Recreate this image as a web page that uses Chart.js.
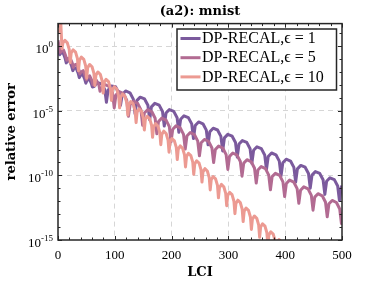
<!DOCTYPE html>
<html>
<head>
<meta charset="utf-8">
<script src="https://cdn.jsdelivr.net/npm/chart.js@4.4.1/dist/chart.umd.min.js"></script>
<style>
  html, body { margin: 0; padding: 0; background: #fff; }
  canvas { display: block; }
</style>
</head>
<body>
<canvas id="chart" width="378" height="283"></canvas>
<script>
"use strict";

// series: LCI positions and log10(relative error)
const seriesLabels = ["DP-RECAL,\u03f5 = 1", "DP-RECAL,\u03f5 = 5", "DP-RECAL,\u03f5 = 10"];

const lciEps1 = [
  0, 3, 5, 8.75, 12.5, 14.5, 16.5, 20.25, 24, 26, 28, 31.75, 35.5, 37.5, 39.5, 43.25, 47, 49, 51, 54.75, 58.5, 60.5,
  63.5, 69.2, 76.6, 82.3, 85.25, 88.2, 93.9, 101.3, 107, 110,
  113.1, 119, 126.7, 132.6,
  135.7, 138.8, 144.7, 152.4, 158.3,
  161.4, 164.5, 170.4, 178.1, 184,
  187.1, 190.2, 196.1, 203.8, 209.7,
  212.8, 215.9, 221.8, 229.5, 235.4,
  238.5, 241.6, 247.5, 255.2, 261.1,
  264.2, 267.3, 273.2, 280.9, 286.8,
  289.9, 293, 298.9, 306.6, 312.5,
  315.6, 318.7, 324.6, 332.3, 338.2,
  341.3, 344.4, 350.3, 358, 363.9,
  367, 370.1, 376, 383.7, 389.6,
  392.7, 395.8, 401.7, 409.4, 415.3,
  418.4, 421.5, 427.4, 435.1, 441,
  444.1, 447.2, 453.1, 460.8, 466.7,
  469.8, 472.9, 478.8, 486.5, 492.4,
  495.5, 498.6, 500
];
const logErrEps1 = [
  -0.05, -0.67, -0.53, -0.48, -0.94, -1.3, -1.16, -1.11, -1.55, -1.9, -1.75, -1.68, -2.1, -2.44, -2.28, -2.16, -2.55, -2.87, -2.68, -2.52, -2.86, -3.16,
  -3.13, -2.83, -2.91, -3.35, -4.35, -3.41, -3.08, -3.15, -3.63, -4.6,
  -3.74, -3.47, -3.61, -4.1,
  -5.23, -4.22, -3.95, -4.09, -4.58,
  -5.71, -4.7, -4.43, -4.57, -5.06,
  -6.19, -5.18, -4.91, -5.05, -5.54,
  -6.67, -5.66, -5.39, -5.53, -6.02,
  -7.15, -6.14, -5.87, -6.01, -6.5,
  -7.63, -6.62, -6.35, -6.49, -6.98,
  -8.11, -7.1, -6.83, -6.97, -7.46,
  -8.59, -7.58, -7.31, -7.45, -7.94,
  -9.07, -8.06, -7.79, -7.93, -8.42,
  -9.55, -8.54, -8.27, -8.41, -8.9,
  -10.03, -9.02, -8.75, -8.89, -9.38,
  -10.51, -9.5, -9.23, -9.37, -9.86,
  -10.99, -9.98, -9.71, -9.85, -10.34,
  -11.47, -10.46, -10.19, -10.33, -10.82,
  -11.95, -10.94, -10.8
];

const lciEps5 = [
  0, 4, 6, 9.75, 13.5, 15.5, 17.5, 21.25, 25, 27, 29, 32.75, 36.5, 38.5, 40.5, 44.25, 48, 50, 52, 55.75, 59.5, 61.5, 63.5, 67.75, 72, 74,
  77, 82.75, 90.25, 96, 99,
  102, 107.75, 115.25, 121, 124,
  127, 132.75, 140.25, 146, 149,
  152, 157.75, 165.25, 171, 174,
  177, 182.75, 190.25, 196, 199,
  202, 207.75, 215.25, 221, 224,
  227, 232.75, 240.25, 246, 249,
  252, 257.75, 265.25, 271, 274,
  277, 282.75, 290.25, 296, 299,
  302, 307.75, 315.25, 321, 324,
  327, 332.75, 340.25, 346, 349,
  352, 357.75, 365.25, 371, 374,
  377, 382.75, 390.25, 396, 399,
  402, 407.75, 415.25, 421, 424,
  427, 432.75, 440.25, 446, 449,
  452, 457.75, 465.25, 471, 474,
  477, 482.75, 490.25, 496, 499,
  500
];
const logErrEps5 = [
  0.45, -0.5, -0.4, -0.3, -0.75, -1.1, -0.95, -0.9, -1.3, -1.65, -1.45, -1.4, -1.8, -2.15, -2.0, -1.9, -2.3, -2.6, -2.4, -2.3, -2.65, -3.0, -2.75, -2.65, -3.0, -3.5,
  -3.23, -2.97, -3.13, -3.63, -4.78,
  -3.78, -3.52, -3.68, -4.18, -5.43,
  -4.53, -4.27, -4.43, -4.93, -6.13,
  -5.18, -4.92, -5.08, -5.58, -6.78,
  -5.83, -5.57, -5.73, -6.23, -7.4,
  -6.43, -6.17, -6.33, -6.83, -7.96,
  -6.95, -6.69, -6.85, -7.35, -8.49,
  -7.48, -7.22, -7.38, -7.88, -9.01,
  -8.0, -7.74, -7.9, -8.4, -9.54,
  -8.53, -8.27, -8.43, -8.93, -10.06,
  -9.05, -8.79, -8.95, -9.45, -10.59,
  -9.58, -9.32, -9.48, -9.98, -11.11,
  -10.1, -9.84, -10.0, -10.5, -11.64,
  -10.63, -10.37, -10.53, -11.03, -12.16,
  -11.15, -10.89, -11.05, -11.55, -12.69,
  -11.68, -11.42, -11.58, -12.08, -13.21,
  -12.2, -11.94, -12.1, -12.6, -13.73,
  -12.9
];

const lciEps10 = [
  0, 2.5, 5, 7, 8.75, 12.1, 16.4, 19.75, 21.5,
  23.25, 26.6, 30.9, 34.25, 36,
  37.75, 41.1, 45.4, 48.75, 50.5,
  52.25, 55.6, 59.9, 63.25, 65,
  66.75, 70.1, 74.4, 77.75, 79.5,
  81.25, 84.6, 88.9, 92.25, 94,
  95.75, 99.1, 103.4, 106.75, 108.5,
  110.25, 113.6, 117.9, 121.25, 123,
  124.75, 128.1, 132.4, 135.75, 137.5,
  139.25, 142.6, 146.9, 150.25, 152,
  153.75, 157.1, 161.4, 164.75, 166.5,
  168.25, 171.6, 175.9, 179.25, 181,
  182.75, 186.1, 190.4, 193.75, 195.5,
  197.25, 200.6, 204.9, 208.25, 210,
  211.75, 215.1, 219.4, 222.75, 224.5,
  226.25, 229.6, 233.9, 237.25, 239,
  240.75, 244.1, 248.4, 251.75, 253.5,
  255.25, 258.6, 262.9, 266.25, 268,
  269.75, 273.1, 277.4, 280.75, 282.5,
  284.25, 287.6, 291.9, 295.25, 297,
  298.75, 302.1, 306.4, 309.75, 311.5,
  313.25, 316.6, 320.9, 324.25, 326,
  327.75, 331.1, 335.4, 338.75, 340.5,
  342.25, 345.6, 349.9, 353.25, 355,
  356.75, 360.1, 364.4, 367.75, 369.5,
  371.25, 374.6, 378.9, 382.25, 384,
  385.75, 389.1, 393.4, 396.75, 398.5
];
const logErrEps10 = [
  1.0, 2.1, 1.7, -0.2, 0.25, 0.45, 0.25, -0.25, -1.28,
  -0.53, -0.28, -0.46, -0.97, -1.91,
  -1.1, -0.85, -1.03, -1.54, -2.48,
  -1.67, -1.42, -1.6, -2.11, -3.05,
  -2.25, -2.0, -2.18, -2.69, -3.63,
  -2.82, -2.57, -2.75, -3.26, -4.2,
  -3.39, -3.14, -3.32, -3.83, -4.77,
  -3.96, -3.71, -3.89, -4.4, -5.34,
  -4.54, -4.29, -4.47, -4.98, -5.92,
  -5.11, -4.86, -5.04, -5.55, -6.49,
  -5.68, -5.43, -5.61, -6.12, -7.06,
  -6.25, -6.0, -6.18, -6.69, -7.63,
  -6.83, -6.58, -6.76, -7.27, -8.21,
  -7.4, -7.15, -7.33, -7.84, -8.78,
  -7.97, -7.72, -7.9, -8.41, -9.35,
  -8.54, -8.29, -8.47, -8.98, -9.92,
  -9.12, -8.87, -9.05, -9.56, -10.52,
  -9.73, -9.48, -9.66, -10.17, -11.13,
  -10.34, -10.09, -10.27, -10.78, -11.74,
  -10.95, -10.7, -10.88, -11.39, -12.35,
  -11.56, -11.31, -11.49, -12.0, -12.96,
  -12.17, -11.92, -12.1, -12.61, -13.57,
  -12.78, -12.53, -12.71, -13.22, -14.18,
  -13.39, -13.14, -13.32, -13.83, -14.79,
  -14.0, -13.75, -13.93, -14.44, -15.4,
  -14.61, -14.36, -14.54, -15.05, -16.0,
  -15.22, -14.97, -15.15, -15.66, -16.6
];

// axis ticks
const xTicks = [0, 100, 200, 300, 400, 500];
const yDecades = [-15, -14, -13, -12, -11, -10, -9, -8, -7, -6, -5, -4, -3, -2, -1, 0, 1];
const yLabelExps = [0, -5, -10, -15];

const colors = ["#7b5a9d", "#b26b92", "#ec9a92"];
const gridColor = "#d6d6d6";
const serif = "'Liberation Serif', 'Times New Roman', serif";
const boldSerif = "'DejaVu Serif', serif";

function toPoints(xs, logs) {
  return xs.map((x, i) => ({ x: x, y: Math.pow(10, logs[i]) }));
}

// box, inward ticks and y labels with superscripts (matlab style)
const axesBox = {
  id: "axesBox",
  afterDatasetsDraw(chart) {
    const ctx = chart.ctx;
    const area = chart.chartArea;
    const xs = chart.scales.x;
    const ys = chart.scales.y;
    ctx.save();
    ctx.strokeStyle = "#262626";
    ctx.lineWidth = 1;
    xs.ticks.forEach((t) => {
      const px = Math.round(xs.getPixelForValue(t.value)) + 0.5;
      const len = t.value % 100 === 0 ? 4 : 2.5;
      ctx.beginPath();
      ctx.moveTo(px, area.bottom);
      ctx.lineTo(px, area.bottom - len);
      ctx.moveTo(px, area.top);
      ctx.lineTo(px, area.top + len);
      ctx.stroke();
    });
    ys.ticks.forEach((t) => {
      const e = Math.round(Math.log10(t.value));
      const py = Math.round(ys.getPixelForValue(t.value)) + 0.5;
      const len = yLabelExps.includes(e) ? 4 : 2.5;
      ctx.beginPath();
      ctx.moveTo(area.left, py);
      ctx.lineTo(area.left + len, py);
      ctx.moveTo(area.right, py);
      ctx.lineTo(area.right - len, py);
      ctx.stroke();
    });
    ctx.lineWidth = 1.5;
    ctx.strokeRect(area.left, area.top, area.right - area.left, area.bottom - area.top);

    ctx.fillStyle = "#000";
    ctx.textBaseline = "alphabetic";
    ctx.textAlign = "left";
    yLabelExps.forEach((e) => {
      const py = ys.getPixelForValue(Math.pow(10, e));
      const sup = String(e);
      ctx.font = "9px " + serif;
      const ws = ctx.measureText(sup).width;
      ctx.font = "13px " + serif;
      const wb = ctx.measureText("10").width;
      const right = area.left - 5;
      ctx.fillText("10", right - ws - wb, py + 7);
      ctx.font = "9px " + serif;
      ctx.fillText(sup, right - ws, py + 1);
    });
    ctx.restore();
  },
  afterDraw(chart) {
    // legend box in the upper right
    const ctx = chart.ctx;
    const left = 177, top = 29, right = 336.5, bottom = 90;
    ctx.save();
    ctx.fillStyle = "#fff";
    ctx.fillRect(left, top, right - left, bottom - top);
    ctx.strokeStyle = "#262626";
    ctx.lineWidth = 1.5;
    ctx.strokeRect(left, top, right - left, bottom - top);
    ctx.font = "16px " + serif;
    ctx.textBaseline = "middle";
    ctx.fillStyle = "#000";
    chart.data.datasets.forEach((ds, i) => {
      const y = 38.5 + i * 19.2;
      ctx.strokeStyle = ds.borderColor;
      ctx.lineWidth = 3;
      ctx.beginPath();
      ctx.moveTo(180.5, y);
      ctx.lineTo(200.5, y);
      ctx.stroke();
      ctx.fillText(ds.label, 202, y + 0.5);
    });
    ctx.restore();
  }
};

function makeChart() {
  const ctx = document.querySelector("#chart").getContext("2d");
  const datasets = [
    { label: seriesLabels[0], data: toPoints(lciEps1, logErrEps1), borderColor: colors[0], order: 3 },
    { label: seriesLabels[1], data: toPoints(lciEps5, logErrEps5), borderColor: colors[1], order: 2 },
    { label: seriesLabels[2], data: toPoints(lciEps10, logErrEps10), borderColor: colors[2], order: 1 }
  ];
  const configuration = {
    type: "line",
    data: { datasets: datasets },
    options: {
      responsive: false,
      animation: false,
      layout: { padding: { left: 0, right: 36, top: 0, bottom: 0 } },
      elements: {
        point: { radius: 0 },
        line: { borderWidth: 3, tension: 0, fill: false, borderJoinStyle: "round" }
      },
      plugins: {
        legend: { display: false },
        tooltip: { enabled: false },
        title: {
          display: true,
          fullSize: false,
          text: "(a2): mnist",
          color: "#000",
          font: { family: boldSerif, size: 13, weight: "bold" },
          padding: { top: 4, bottom: 4 }
        }
      },
      scales: {
        x: {
          type: "linear",
          min: 0,
          max: 500,
          afterBuildTicks: (scale) => {
            const ticks = [];
            for (let v = 0; v <= 500; v += 20) ticks.push({ value: v });
            scale.ticks = ticks;
          },
          afterFit: (scale) => { scale.height = 43; },
          ticks: {
            autoSkip: false,
            maxRotation: 0,
            padding: 8,
            color: "#000",
            font: { family: serif, size: 13 },
            callback: (v) => (xTicks.includes(v) ? String(v) : "")
          },
          grid: {
            drawTicks: false,
            color: (c) => (c.tick && c.tick.value % 100 === 0 && c.tick.value > 0 && c.tick.value < 500 ? gridColor : "rgba(0,0,0,0)")
          },
          border: { display: false, dash: [5, 4] },
          title: {
            display: true,
            text: "LCI",
            color: "#000",
            font: { family: boldSerif, size: 13, weight: "bold" },
            padding: { top: 0, bottom: 3 }
          }
        },
        y: {
          type: "logarithmic",
          min: 1e-15,
          max: 55,
          afterBuildTicks: (scale) => {
            scale.ticks = yDecades.map((e) => ({ value: Math.pow(10, e) }));
          },
          afterFit: (scale) => { scale.width = 58; },
          ticks: {
            autoSkip: false,
            callback: () => ""
          },
          grid: {
            drawTicks: false,
            color: (c) => {
              const e = Math.round(Math.log10(c.tick.value));
              return e % 5 === 0 && e > -15 && e < 1 ? gridColor : "rgba(0,0,0,0)";
            }
          },
          border: { display: false, dash: [5, 4] },
          title: {
            display: true,
            text: "relative error",
            color: "#000",
            font: { family: boldSerif, size: 13, weight: "bold" },
            padding: { top: 4, bottom: 0 }
          }
        }
      }
    },
    plugins: [axesBox]
  };
  return new Chart(ctx, configuration);
}

makeChart();
</script>
</body>
</html>
